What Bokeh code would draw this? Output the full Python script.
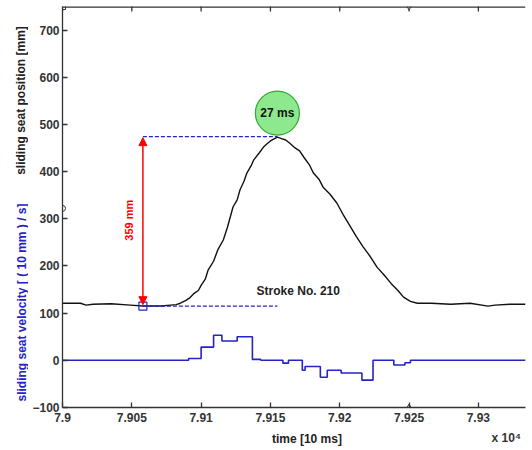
import math
from bokeh.plotting import figure
from bokeh.layouts import row, column
from bokeh.models import Range1d, FixedTicker, Label, Arrow, NormalHead, Span
from bokeh.embed import file_html
from bokeh.resources import INLINE
from bokeh.core.properties import value

# sliding seat position [mm] vs time [10 ms]
pos_t = [79000, 79013, 79017, 79022, 79035, 79049, 79058, 79071, 79078, 79082, 79085, 79089,
         79092, 79095, 79098, 79100, 79103, 79105, 79109, 79112, 79116, 79119, 79123, 79126,
         79128, 79131, 79133, 79136, 79138, 79142, 79145, 79148, 79150, 79153,
         79155, 79158, 79161, 79164, 79167, 79171, 79174, 79178, 79181, 79185, 79188, 79193,
         79198, 79203, 79208, 79212, 79217, 79222, 79227, 79232, 79237, 79242,
         79246, 79251, 79256, 79266, 79280, 79294, 79307, 79312, 79323, 79334]
pos_mm = [121, 121, 117, 119, 120, 117, 115, 115, 117, 118, 121, 127,
          133, 142, 148, 159, 172, 191, 210, 234, 255, 282, 325, 340,
          361, 380, 397, 412, 425, 440, 452, 460, 465, 470,
          473, 470, 467, 460, 452, 444, 431, 415, 397, 384, 367, 352,
          333, 306, 282, 262, 240, 220, 197, 181, 163, 148,
          134, 125, 121, 121, 119, 121, 115, 117, 119, 119]

# sliding seat velocity [(10 mm)/s], stepped
vel_t = [79000, 79091, 79100, 79109, 79115, 79126, 79137, 79143, 79159, 79163, 79173,
         79175, 79186, 79191, 79201, 79216, 79224, 79239, 79247, 79251, 79334]
vel = [0, 4, 28, 53, 41, 50, 2, 0, -6, 0, -21,
       -13, -36, -21, -27, -42, 0, -10, -5, 0, 0]

x_ticks = [79000, 79050, 79100, 79150, 79200, 79250, 79300]
x_tick_labels = ["7.9", "7.905", "7.91", "7.915", "7.92", "7.925", "7.93"]
y_ticks = [-100, 0, 100, 200, 300, 400, 500, 600, 700]

stroke_start_t = 79058
stroke_base = 115
stroke_peak_t = 79155
stroke_peak = 474
stroke_label = "Stroke No. 210"
duration_label = "27 ms"
amplitude_label = "359 mm"

# cursor markers on axes
cursor_t = [79000, 79000, 79250, 79250]
cursor_v = [750, 322, 750, -100]
cursor_mk = ["square", "circle", "inverted_triangle", "triangle"]

FONT = "Liberation Sans"
BLUE = "#2323c8"
AX = "#333333"

LEFT_W = 28
W, H = 530, 448
MAIN_H = 426

def strip(width, height, xr, yr):
    f = figure(width=width, height=height, output_backend="svg", toolbar_location=None,
               x_range=Range1d(*xr), y_range=Range1d(*yr), x_axis_type=None,
               y_axis_type=None, min_border=0, background_fill_color="white",
               border_fill_color="white")
    f.outline_line_color = None
    f.xgrid.visible = False
    f.ygrid.visible = False
    return f

# main plot
p = figure(width=W - LEFT_W, height=MAIN_H, output_backend="svg", toolbar_location=None,
           x_range=Range1d(79000, 79334), y_range=Range1d(-100, 750),
           min_border_left=62 - LEFT_W, min_border_right=5, min_border_top=6,
           min_border_bottom=MAIN_H - 407,
           background_fill_color="white", border_fill_color="white")
p.outline_line_color = None
p.xgrid.visible = False
p.ygrid.visible = False

for ax in (p.xaxis[0], p.yaxis[0]):
    ax.major_tick_in = 5
    ax.major_tick_out = 0
    ax.minor_tick_line_color = None
    ax.axis_line_color = AX
    ax.axis_line_width = 1.3
    ax.major_tick_line_color = AX
    ax.major_tick_line_width = 1.3
    ax.major_label_text_font = FONT
    ax.major_label_text_font_style = "bold"
    ax.major_label_text_font_size = "12px"
    ax.major_label_text_color = AX

p.xaxis[0].ticker = FixedTicker(ticks=x_ticks)
p.xaxis[0].major_label_overrides = {t: l for t, l in zip(x_ticks, x_tick_labels)}
p.xaxis[0].major_label_standoff = 5
p.yaxis[0].ticker = FixedTicker(ticks=y_ticks)
p.yaxis[0].major_label_standoff = 3

# top box line with inward ticks
p.add_layout(Span(location=750, dimension="width", line_color=AX, line_width=2.6))
p.scatter(x_ticks, [750] * len(x_ticks), marker="dash", angle=math.pi / 2, size=10,
          line_color=AX, line_width=1.3)

# curves
p.line(pos_t, pos_mm, line_color="#111111", line_width=1.4)
p.step(vel_t, vel, mode="after", line_color=BLUE, line_width=1.6)

# stroke annotation
p.line([stroke_start_t, stroke_peak_t], [stroke_peak, stroke_peak], line_color=BLUE,
       line_dash="4 2", line_width=1.2)
p.line([stroke_start_t, stroke_peak_t], [stroke_base, stroke_base], line_color=BLUE,
       line_dash="4 2", line_width=1.2)
p.scatter([stroke_start_t], [stroke_base], marker="square", size=8, fill_color=None,
          line_color=BLUE, line_width=1.2)
p.add_layout(Arrow(start=NormalHead(size=8, fill_color="red", line_color="red"),
                   end=NormalHead(size=8, fill_color="red", line_color="red"),
                   x_start=stroke_start_t, y_start=stroke_base + 3,
                   x_end=stroke_start_t, y_end=stroke_peak - 2,
                   line_color="red", line_width=1.5))
p.add_layout(Label(x=stroke_start_t - 10, y=297, text=amplitude_label, angle=math.pi / 2,
                   text_align="center", text_baseline="middle", text_color="red",
                   text_font=FONT, text_font_style="bold", text_font_size="11px"))
p.scatter([stroke_peak_t], [524], marker="circle", size=44, fill_color="#8ee88e",
          line_color="#33aa33", line_width=1.2)
p.text([stroke_peak_t], [524], text=[duration_label], text_align="center",
       text_baseline="middle", text_font=value(FONT), text_font_style="bold",
       text_font_size="12px", text_color="#111111")
p.add_layout(Label(x=79140, y=146, text=stroke_label, text_baseline="middle",
                   text_font=FONT, text_font_style="bold", text_font_size="12px",
                   text_color="#222222"))

# cursor markers
for t, v, m in zip(cursor_t, cursor_v, cursor_mk):
    p.scatter([t], [v], marker=m, size=6, fill_color="white", line_color=AX)

# left strip with the two vertical axis titles (page pixel coordinates)
left = strip(LEFT_W, H, (0, LEFT_W), (H, 0))
left.add_layout(Label(x=20, y=100, text="sliding seat position [mm]", angle=math.pi / 2,
                      text_align="center", text_baseline="middle", text_font=FONT,
                      text_font_style="bold", text_font_size="12px", text_color="#222222"))
left.add_layout(Label(x=21, y=302, text="sliding seat velocity [ ( 10 mm ) / s]",
                      angle=math.pi / 2, text_align="center", text_baseline="middle",
                      text_font=FONT, text_font_style="bold", text_font_size="12px",
                      text_color=BLUE))

# bottom strip with the x-axis title and the exponent
bottom = strip(W - LEFT_W, H - MAIN_H, (LEFT_W, W), (H, MAIN_H))
bottom.add_layout(Label(x=293, y=438, text="time [10 ms]", text_align="center",
                        text_baseline="middle", text_font=FONT, text_font_style="bold",
                        text_font_size="12px", text_color="#222222"))
bottom.add_layout(Label(x=525, y=437, text="x 10\u2074", text_align="right",
                        text_baseline="middle", text_font=FONT, text_font_style="bold",
                        text_font_size="12px", text_color=AX))

layout = row(left, column(p, bottom, spacing=0), spacing=0)
open("out.html", "w").write(file_html(layout, INLINE))
